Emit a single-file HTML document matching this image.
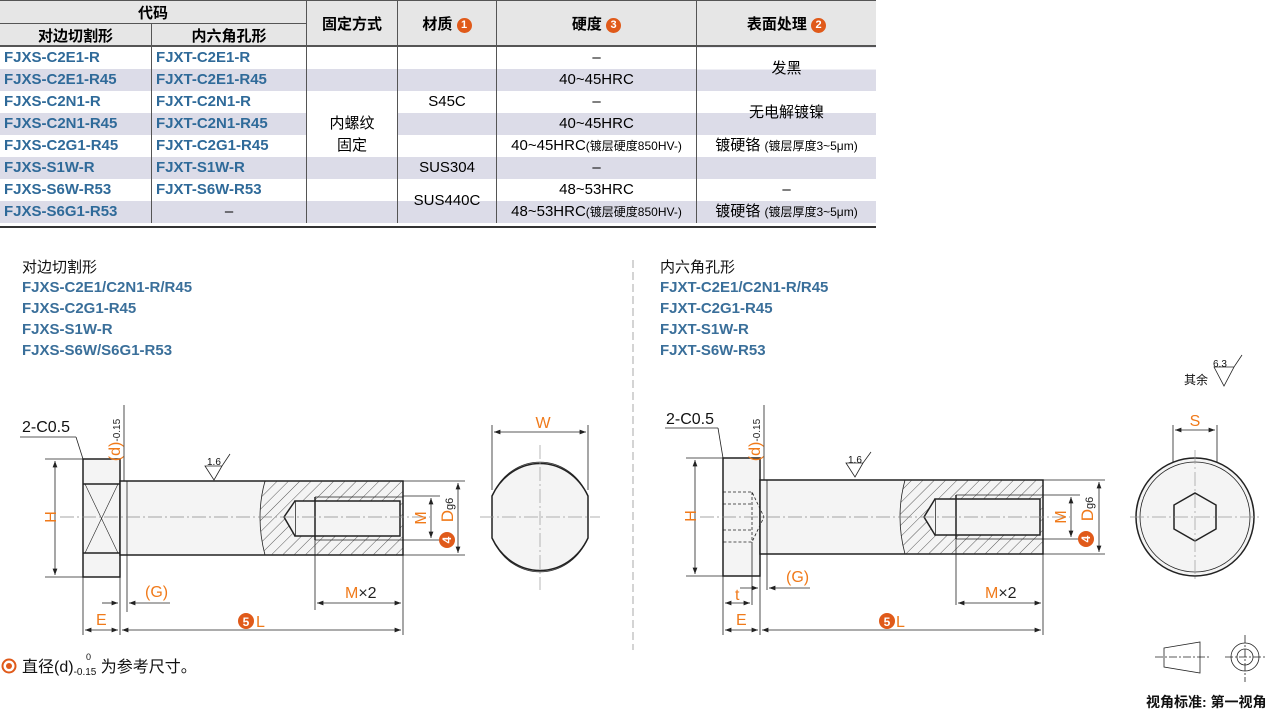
<!DOCTYPE html>
<html><head><meta charset="utf-8"><style>
body{margin:0;background:#fff;width:1279px;height:711px;overflow:hidden;font-family:"Liberation Sans","Noto Sans CJK SC",sans-serif}
table{position:absolute;left:0;top:0;border-collapse:collapse;width:876px;font-size:15px}
td{border-right:1px solid #555;height:22px;padding:0;text-align:center;line-height:22px;white-space:nowrap}
td.c{color:#2f6a99;font-weight:bold;text-align:left;padding-left:4px;font-size:15px}
tr.s td{background:#dcdce8}
th{background:#e6e6e6;border-right:1px solid #555;border-bottom:1px solid #555;font-size:15px;height:22px;padding:0}
.b{display:inline-block;width:15px;height:15px;border-radius:50%;background:#e05a1a;color:#fff;font-size:11px;line-height:15px;text-align:center;vertical-align:1px}
.sm{font-size:12px}
</style></head><body>
<table>
<tr><th colspan="2" style="border-top:1px solid #555">代码</th><th rowspan="2" style="border-top:1px solid #555;width:90px">固定方式</th><th rowspan="2" style="border-top:1px solid #555;width:98px">材质 <span class="b">1</span></th><th rowspan="2" style="border-top:1px solid #555;width:199px">硬度 <span class="b">3</span></th><th rowspan="2" style="border-top:1px solid #555;border-right:none">表面处理 <span class="b">2</span></th></tr>
<tr><th style="width:151px">对边切割形</th><th style="width:154px">内六角孔形</th></tr>
<tr><td class="c">FJXS-C2E1-R</td><td class="c">FJXT-C2E1-R</td><td></td><td></td><td>–</td><td rowspan="2" style="border:none;background:linear-gradient(#fff 50%,#dcdce8 50%)">发黑</td></tr>
<tr class="s"><td class="c">FJXS-C2E1-R45</td><td class="c">FJXT-C2E1-R45</td><td></td><td></td><td>40~45HRC</td></tr>
<tr><td class="c">FJXS-C2N1-R</td><td class="c">FJXT-C2N1-R</td><td></td><td>S45C</td><td>–</td><td rowspan="2" style="border:none;background:linear-gradient(#fff 50%,#dcdce8 50%)">无电解镀镍</td></tr>
<tr class="s"><td class="c">FJXS-C2N1-R45</td><td class="c">FJXT-C2N1-R45</td><td style="background:#fff">内螺纹</td><td></td><td>40~45HRC</td></tr>
<tr><td class="c">FJXS-C2G1-R45</td><td class="c">FJXT-C2G1-R45</td><td>固定</td><td></td><td>40~45HRC<span class="sm">(镀层硬度850HV-)</span></td><td style="border:none">镀硬铬 <span class="sm">(镀层厚度3~5μm)</span></td></tr>
<tr class="s"><td class="c">FJXS-S1W-R</td><td class="c">FJXT-S1W-R</td><td></td><td>SUS304</td><td>–</td><td style="border:none;background:#dcdce8"></td></tr>
<tr><td class="c">FJXS-S6W-R53</td><td class="c">FJXT-S6W-R53</td><td></td><td rowspan="2" style="background:linear-gradient(#fff 50%,#dcdce8 50%)">SUS440C</td><td>48~53HRC</td><td style="border:none">–</td></tr>
<tr class="s"><td class="c">FJXS-S6G1-R53</td><td style="text-align:center">–</td><td></td><td>48~53HRC<span class="sm">(镀层硬度850HV-)</span></td><td style="border:none">镀硬铬 <span class="sm">(镀层厚度3~5μm)</span></td></tr>
</table>
<div style="position:absolute;left:0;top:226px;width:876px;height:2px;background:#333"></div>
<div style="position:absolute;left:0;top:45px;width:876px;height:1px;background:#555"></div>
<svg width="1279" height="711" style="position:absolute;left:0;top:0" font-family="Liberation Sans, Noto Sans CJK SC, sans-serif">
<defs>
<pattern id="h" width="8" height="8" patternUnits="userSpaceOnUse" patternTransform="rotate(45)"><line x1="0" y1="0" x2="0" y2="8" stroke="#333" stroke-width="0.8"/></pattern>
<marker id="a" markerWidth="8" markerHeight="6" refX="8" refY="3" orient="auto-start-reverse"><path d="M0,0 L8,3 L0,6z" fill="#222"/></marker>
</defs>
<g font-size="15" font-weight="bold" fill="#3a6f9a">
<text x="22" y="272" fill="#111" font-weight="normal">对边切割形</text>
<text x="22" y="292">FJXS-C2E1/C2N1-R/R45</text><text x="22" y="313">FJXS-C2G1-R45</text><text x="22" y="334">FJXS-S1W-R</text><text x="22" y="355">FJXS-S6W/S6G1-R53</text>
<text x="660" y="272" fill="#111" font-weight="normal">内六角孔形</text>
<text x="660" y="292">FJXT-C2E1/C2N1-R/R45</text><text x="660" y="313">FJXT-C2G1-R45</text><text x="660" y="334">FJXT-S1W-R</text><text x="660" y="355">FJXT-S6W-R53</text>
</g>
<line x1="633" y1="260" x2="633" y2="650" stroke="#aaa" stroke-dasharray="8,4"/>
<g stroke="#222" fill="none" stroke-width="1.5">
<rect x="83" y="459" width="37" height="118" fill="#f4f4f4"/>
<line x1="83" y1="484" x2="120" y2="484"/><line x1="83" y1="553" x2="120" y2="553"/>
<line x1="85" y1="484" x2="118" y2="553" stroke-width="0.6"/><line x1="118" y1="484" x2="85" y2="553" stroke-width="0.6"/>
<rect x="120" y="481" width="283" height="74" fill="#f4f4f4"/>
<path d="M265,481 Q255,517 265,555 L403,555 L403,481Z" fill="url(#h)" stroke="none"/>
<path d="M265,481 Q255,517 265,555" stroke-width="0.8"/>
<rect x="295" y="501" width="105" height="35" fill="#f4f4f4"/>
<path d="M295,501 L284,517 L295,536" fill="#f4f4f4"/>
<line x1="315" y1="497" x2="315" y2="540"/><line x1="315" y1="497" x2="403" y2="497" stroke-width="0.8"/><line x1="315" y1="540" x2="403" y2="540" stroke-width="0.8"/>
<line x1="127" y1="481" x2="127" y2="555" stroke-width="0.8"/>
</g>
<g stroke="#222" stroke-width="0.8" fill="none">
<line x1="60" y1="517" x2="430" y2="517" stroke-dasharray="14,3,2,3" stroke="#888"/>
<line x1="45" y1="459" x2="83" y2="459"/><line x1="45" y1="577" x2="83" y2="577"/>
<line x1="55" y1="461" x2="55" y2="575" marker-start="url(#a)" marker-end="url(#a)"/>
<line x1="403" y1="496" x2="440" y2="496"/><line x1="403" y1="540" x2="440" y2="540"/>
<line x1="431" y1="498" x2="431" y2="538" marker-start="url(#a)" marker-end="url(#a)"/>
<line x1="403" y1="481" x2="465" y2="481"/><line x1="403" y1="555" x2="465" y2="555"/>
<line x1="458" y1="483" x2="458" y2="553" marker-start="url(#a)" marker-end="url(#a)"/>
<line x1="83" y1="577" x2="83" y2="635"/><line x1="120" y1="555" x2="120" y2="635"/><line x1="403" y1="555" x2="403" y2="635"/>
<line x1="127" y1="555" x2="127" y2="612"/><line x1="315" y1="540" x2="315" y2="610"/>
<line x1="85" y1="630" x2="118" y2="630" marker-start="url(#a)" marker-end="url(#a)"/>
<line x1="122" y1="630" x2="401" y2="630" marker-start="url(#a)" marker-end="url(#a)"/>
<line x1="317" y1="603" x2="401" y2="603" marker-start="url(#a)" marker-end="url(#a)"/>
<line x1="102" y1="603" x2="118" y2="603" marker-end="url(#a)"/><line x1="170" y1="603" x2="129" y2="603" marker-end="url(#a)"/>
<line x1="124" y1="405" x2="124" y2="481"/>
<line x1="20" y1="437" x2="76" y2="437"/><line x1="76" y1="437" x2="83" y2="459"/>
<path d="M205,466 L214,480 L222,466Z M205,466 L222,466 L230,454"/>
<line x1="492" y1="425" x2="492" y2="490"/><line x1="588" y1="425" x2="588" y2="490"/>
<line x1="494" y1="432" x2="586" y2="432" marker-start="url(#a)" marker-end="url(#a)"/>
</g>
<g stroke="#222" fill="#f4f4f4" stroke-width="1.5">
<path d="M492,496 A54,60 0 0 1 588,496 L588,538 A54,60 0 0 1 492,538Z"/>
<path d="M494,492 A52,56 0 0 1 586,492 M494,542 A52,56 0 0 0 586,542" fill="none" stroke-width="0.8"/>
</g>
<g stroke="#999" stroke-width="0.7" stroke-dasharray="14,3,2,3"><line x1="480" y1="517" x2="600" y2="517"/><line x1="540" y1="445" x2="540" y2="590"/></g>
<g fill="#f07a1a" font-size="16">
<text x="50" y="523" transform="rotate(-90 50 517)" text-anchor="middle">H</text>
<text x="426" y="518" transform="rotate(-90 426 518)" text-anchor="middle">M</text>
<text x="453" y="510" transform="rotate(-90 453 510)" text-anchor="middle" font-size="17">D<tspan font-size="11" fill="#222">g6</tspan></text>
<text x="120" y="440" transform="rotate(-90 120 440)" text-anchor="middle">(d)<tspan font-size="10" fill="#222">-0.15</tspan></text>
<text x="543" y="428" text-anchor="middle">W</text>
<text x="96" y="625">E</text><text x="145" y="597">(G)</text>
<text x="345" y="598">M<tspan fill="#222">×2</tspan></text>
<text x="256" y="627">L</text>
</g>
<circle cx="246" cy="621" r="8" fill="#e05a1a"/><text x="246" y="626" fill="#fff" font-size="12" font-weight="bold" text-anchor="middle">5</text>
<circle cx="447" cy="540" r="8" fill="#e05a1a"/><text x="447" y="544" fill="#fff" font-size="12" font-weight="bold" text-anchor="middle" transform="rotate(-90 447 540)">4</text>
<text x="22" y="432" font-size="16" fill="#111">2-C0.5</text>
<text x="207" y="465" font-size="10" fill="#111">1.6</text>
<g stroke="#222" fill="none" stroke-width="1.5">
<rect x="723" y="458" width="37" height="118" fill="#f4f4f4"/>
<rect x="760" y="480" width="283" height="74" fill="#f4f4f4"/>
<path d="M905,480 Q895,517 905,554 L1043,554 L1043,480Z" fill="url(#h)" stroke="none"/>
<path d="M905,480 Q895,517 905,554" stroke-width="0.8"/>
<rect x="935" y="499" width="105" height="36" fill="#f4f4f4"/>
<path d="M935,499 L924,517 L935,535" fill="#f4f4f4"/>
<line x1="956" y1="495" x2="956" y2="539"/><line x1="956" y1="495" x2="1043" y2="495" stroke-width="0.8"/><line x1="956" y1="539" x2="1043" y2="539" stroke-width="0.8"/>
<line x1="767" y1="480" x2="767" y2="554" stroke-width="0.8"/>
<path d="M723,492 L752,492 L764,517 L752,542 L723,542 M723,504 L752,504 M723,530 L752,530 M752,492 L752,542" stroke-width="0.8" stroke-dasharray="3,2"/>
</g>
<g stroke="#222" stroke-width="0.8" fill="none">
<line x1="700" y1="517" x2="1070" y2="517" stroke-dasharray="14,3,2,3" stroke="#888"/>
<line x1="686" y1="458" x2="723" y2="458"/><line x1="686" y1="576" x2="723" y2="576"/>
<line x1="695" y1="460" x2="695" y2="574" marker-start="url(#a)" marker-end="url(#a)"/>
<line x1="1043" y1="495" x2="1080" y2="495"/><line x1="1043" y1="539" x2="1080" y2="539"/>
<line x1="1071" y1="497" x2="1071" y2="537" marker-start="url(#a)" marker-end="url(#a)"/>
<line x1="1043" y1="480" x2="1105" y2="480"/><line x1="1043" y1="554" x2="1105" y2="554"/>
<line x1="1099" y1="482" x2="1099" y2="552" marker-start="url(#a)" marker-end="url(#a)"/>
<line x1="723" y1="576" x2="723" y2="635"/><line x1="760" y1="554" x2="760" y2="635"/><line x1="1043" y1="554" x2="1043" y2="635"/>
<line x1="752" y1="542" x2="752" y2="605"/>
<line x1="767" y1="554" x2="767" y2="590"/><line x1="956" y1="539" x2="956" y2="605"/>
<line x1="725" y1="603" x2="750" y2="603" marker-start="url(#a)" marker-end="url(#a)"/>
<line x1="725" y1="630" x2="758" y2="630" marker-start="url(#a)" marker-end="url(#a)"/>
<line x1="762" y1="630" x2="1041" y2="630" marker-start="url(#a)" marker-end="url(#a)"/>
<line x1="958" y1="603" x2="1041" y2="603" marker-start="url(#a)" marker-end="url(#a)"/>
<line x1="740" y1="588" x2="758" y2="588" marker-end="url(#a)"/><line x1="810" y1="588" x2="769" y2="588" marker-end="url(#a)"/>
<line x1="764" y1="405" x2="764" y2="480"/>
<line x1="665" y1="428" x2="718" y2="428"/><line x1="718" y1="428" x2="723" y2="458"/>
<path d="M846,463 L855,477 L863,463Z M846,463 L863,463 L871,452"/>
<line x1="1173" y1="425" x2="1173" y2="500"/><line x1="1217" y1="425" x2="1217" y2="500"/>
<line x1="1175" y1="430" x2="1215" y2="430" marker-start="url(#a)" marker-end="url(#a)"/>
<path d="M1214,367 L1224,386 L1234,367Z M1214,367 L1234,367 L1242,355"/>
</g>
<ellipse cx="1195" cy="517" rx="59" ry="59" fill="#f4f4f4" stroke="#222" stroke-width="1.5"/>
<ellipse cx="1195" cy="517" rx="55" ry="55" fill="none" stroke="#222" stroke-width="0.8"/>
<polygon points="1195,493 1216,505 1216,529 1195,541 1174,529 1174,505" fill="#f4f4f4" stroke="#222" stroke-width="1.5"/>
<g stroke="#999" stroke-width="0.7" stroke-dasharray="14,3,2,3"><line x1="1130" y1="517" x2="1260" y2="517"/><line x1="1195" y1="450" x2="1195" y2="582"/></g>
<g fill="#f07a1a" font-size="16">
<text x="690" y="522" transform="rotate(-90 690 516)" text-anchor="middle">H</text>
<text x="1066" y="517" transform="rotate(-90 1066 517)" text-anchor="middle">M</text>
<text x="1093" y="509" transform="rotate(-90 1093 509)" text-anchor="middle" font-size="17">D<tspan font-size="11" fill="#222">g6</tspan></text>
<text x="760" y="440" transform="rotate(-90 760 440)" text-anchor="middle">(d)<tspan font-size="10" fill="#222">-0.15</tspan></text>
<text x="1195" y="426" text-anchor="middle">S</text>
<text x="735" y="600">t</text><text x="736" y="625">E</text><text x="786" y="582">(G)</text>
<text x="985" y="598">M<tspan fill="#222">×2</tspan></text>
<text x="896" y="627">L</text>
</g>
<circle cx="887" cy="621" r="8" fill="#e05a1a"/><text x="887" y="626" fill="#fff" font-size="12" font-weight="bold" text-anchor="middle">5</text>
<circle cx="1086" cy="539" r="8" fill="#e05a1a"/><text x="1086" y="543" fill="#fff" font-size="12" font-weight="bold" text-anchor="middle" transform="rotate(-90 1086 539)">4</text>
<text x="666" y="424" font-size="16" fill="#111">2-C0.5</text>
<text x="848" y="463" font-size="10" fill="#111">1.6</text>
<text x="1213" y="367" font-size="10" fill="#111">6.3</text>
<text x="1184" y="384" font-size="12" fill="#111">其余</text>
<g stroke="#222" stroke-width="0.8" fill="none">
<path d="M1164,648 L1200,642 L1200,673 L1164,667Z"/>
<line x1="1155" y1="657" x2="1210" y2="657" stroke-dasharray="8,2,2,2"/>
<circle cx="1245" cy="657" r="14"/><circle cx="1245" cy="657" r="8"/>
<line x1="1225" y1="657" x2="1265" y2="657" stroke-dasharray="8,2,2,2"/><line x1="1245" y1="635" x2="1245" y2="682" stroke-dasharray="8,2,2,2"/>
</g>
<text x="1146" y="707" font-size="14" font-weight="bold" fill="#111">视角标准: 第一视角</text>
<circle cx="9" cy="666" r="6.5" fill="none" stroke="#e05a1a" stroke-width="2"/><circle cx="9" cy="666" r="3" fill="#e05a1a"/>
<text x="22" y="672" font-size="16" fill="#111">直径(d)<tspan font-size="10" dy="3">-0.15</tspan><tspan dy="-3"> 为参考尺寸。</tspan></text>
<text x="86" y="660" font-size="9" fill="#111">0</text>
</svg>
</body></html>
